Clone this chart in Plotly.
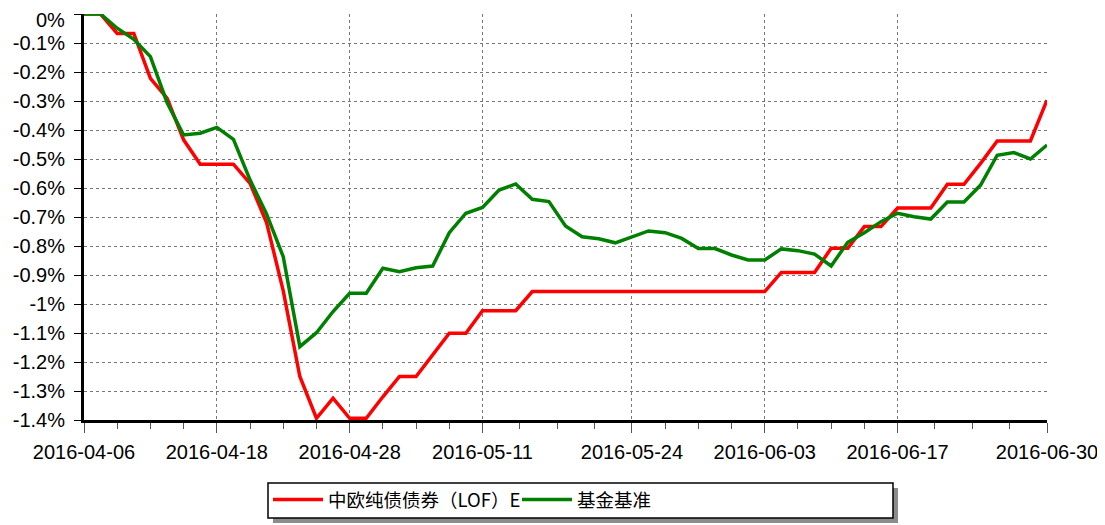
import plotly.graph_objects as go

# ---------------- data ----------------
dates = [
    "2016-04-06", "2016-04-07", "2016-04-08", "2016-04-11", "2016-04-12", "2016-04-13",
    "2016-04-14", "2016-04-15", "2016-04-18", "2016-04-19", "2016-04-20", "2016-04-21",
    "2016-04-22", "2016-04-25", "2016-04-26", "2016-04-27", "2016-04-28", "2016-04-29",
    "2016-05-03", "2016-05-04", "2016-05-05", "2016-05-06", "2016-05-09", "2016-05-10",
    "2016-05-11", "2016-05-12", "2016-05-13", "2016-05-16", "2016-05-17", "2016-05-18",
    "2016-05-19", "2016-05-20", "2016-05-23", "2016-05-24", "2016-05-25", "2016-05-26",
    "2016-05-27", "2016-05-30", "2016-05-31", "2016-06-01", "2016-06-02", "2016-06-03",
    "2016-06-06", "2016-06-07", "2016-06-08", "2016-06-13", "2016-06-14", "2016-06-15",
    "2016-06-16", "2016-06-17", "2016-06-20", "2016-06-21", "2016-06-22", "2016-06-23",
    "2016-06-24", "2016-06-27", "2016-06-28", "2016-06-29", "2016-06-30",
]

fund_name = "中欧纯债债券（LOF）E"
bench_name = "基金基准"

fund = [
    0, 0, -0.067, -0.067, -0.222, -0.29, -0.434, -0.518, -0.518, -0.518,
    -0.584, -0.72, -0.955, -1.25, -1.394, -1.325, -1.394, -1.394, -1.32, -1.25,
    -1.25, -1.176, -1.101, -1.101, -1.023, -1.023, -1.023, -0.957, -0.957, -0.957,
    -0.957, -0.957, -0.957, -0.957, -0.957, -0.957, -0.957, -0.957, -0.957, -0.957,
    -0.957, -0.957, -0.891, -0.891, -0.891, -0.808, -0.808, -0.733, -0.733, -0.669,
    -0.669, -0.669, -0.587, -0.587, -0.515, -0.438, -0.438, -0.438, -0.297,
]

bench = [
    0, 0, -0.049, -0.087, -0.147, -0.305, -0.417, -0.411, -0.391, -0.432,
    -0.572, -0.69, -0.837, -1.147, -1.099, -1.026, -0.963, -0.963, -0.877, -0.889,
    -0.875, -0.869, -0.754, -0.687, -0.667, -0.607, -0.586, -0.639, -0.647, -0.731,
    -0.768, -0.775, -0.789, -0.768, -0.748, -0.754, -0.774, -0.809, -0.809, -0.831,
    -0.848, -0.848, -0.81, -0.816, -0.828, -0.869, -0.787, -0.754, -0.716, -0.687,
    -0.699, -0.707, -0.648, -0.648, -0.59, -0.487, -0.478, -0.5, -0.452,
]

label_dates = ["2016-04-06", "2016-04-18", "2016-04-28", "2016-05-11",
               "2016-05-24", "2016-06-03", "2016-06-17", "2016-06-30"]

y_tickvals = [0, -0.1, -0.2, -0.3, -0.4, -0.5, -0.6, -0.7,
              -0.8, -0.9, -1.0, -1.1, -1.2, -1.3, -1.4]
y_ticktext = ["0%", "-0.1%", "-0.2%", "-0.3%", "-0.4%", "-0.5%", "-0.6%", "-0.7%",
              "-0.8%", "-0.9%", "-1%", "-1.1%", "-1.2%", "-1.3%", "-1.4%"]

# ---------------- derived positions ----------------
idx = list(range(len(dates)))
label_pos = [dates.index(d) for d in label_dates]
minor_pos = []
for a, b in zip(label_pos[:-1], label_pos[1:]):
    for k in range(1, 4):
        minor_pos.append(a + (b - a) * k / 4)

# the topmost label is drawn as an annotation so it is not clipped at the page top
axis_ticktext = [""] + y_ticktext[1:]

FONT = "Liberation Sans, Arial, Noto Sans CJK SC, sans-serif"
CJK = "Noto Sans CJK SC, Liberation Sans, sans-serif"

fig = go.Figure()
fig.add_trace(go.Scatter(
    x=idx, y=fund, mode="lines", name=fund_name,
    line=dict(color="#FF0000", width=3.5),
    customdata=dates, hovertemplate="%{customdata}<br>%{y:.3f}%<extra>" + fund_name + "</extra>",
))
fig.add_trace(go.Scatter(
    x=idx, y=bench, mode="lines", name=bench_name,
    line=dict(color="#008000", width=3.5),
    customdata=dates, hovertemplate="%{customdata}<br>%{y:.3f}%<extra>" + bench_name + "</extra>",
))

# page offset of the figure (default body margin)
OFF = 8
W, H = 1105 - OFF, 525 - OFF
# target plot area in page pixels
PL, PR, PT, PB = 84, 1047, 14, 420
L, R, T, B = PL - OFF, W - (PR - OFF), PT - OFF, H - (PB - OFF)
pw, ph = PR - PL, PB - PT


def px_x(p):
    return (p - PL) / pw


def px_y(p):
    return (PB - p) / ph


shapes = [
    # legend shadow
    dict(type="rect", xref="paper", yref="paper",
         x0=px_x(273), x1=px_x(898), y0=px_y(488), y1=px_y(523),
         fillcolor="#8c8c8c", line=dict(width=0), layer="above"),
    # legend box
    dict(type="rect", xref="paper", yref="paper",
         x0=px_x(268), x1=px_x(893), y0=px_y(483), y1=px_y(518),
         fillcolor="white", line=dict(color="black", width=1.5), layer="above"),
]

annotations = [
    dict(text=y_ticktext[0], xref="paper", yref="paper", x=0, y=1,
         xanchor="right", yanchor="top", xshift=-18, yshift=T,
         showarrow=False, borderpad=0,
         font=dict(family=FONT, size=20, color="black")),
]

fig.update_layout(
    width=W, height=H,
    margin=dict(l=L, r=R, t=T, b=B, pad=0, autoexpand=False),
    paper_bgcolor="white", plot_bgcolor="white",
    font=dict(family=FONT, size=20, color="black"),
    showlegend=True,
    legend=dict(
        orientation="h", x=px_x(268), xanchor="left", y=px_y(500), yanchor="middle",
        bgcolor="rgba(0,0,0,0)", borderwidth=0,
        font=dict(family=CJK, size=18.5, color="black"),
        itemwidth=50, tracegroupgap=0, entrywidth=184, entrywidthmode="pixels",
    ),
    shapes=shapes,
    annotations=annotations,
    xaxis=dict(
        range=[0, len(dates) - 1],
        tickmode="array", tickvals=label_pos, ticktext=label_dates,
        ticks="outside", ticklen=10, tickwidth=1, tickcolor="#555555",
        ticklabelstandoff=2, ticklabeloverflow="allow",
        showgrid=True, gridcolor="#777777", gridwidth=1.2, griddash="dot",
        showline=True, linecolor="black", linewidth=3,
        zeroline=False, tickfont=dict(family=FONT, size=20, color="black"),
        minor=dict(tickmode="array", tickvals=minor_pos, ticks="outside", ticklen=6,
                   tickwidth=1, tickcolor="#555555", showgrid=False),
    ),
    yaxis=dict(
        range=[-1.4, 0],
        tickmode="array", tickvals=y_tickvals, ticktext=axis_ticktext,
        ticks="outside", ticklen=7, tickwidth=1, tickcolor="black",
        ticklabelstandoff=5, ticklabeloverflow="allow",
        showgrid=True, gridcolor="#777777", gridwidth=1.2, griddash="dot",
        showline=True, linecolor="black", linewidth=3,
        zeroline=False, tickfont=dict(family=FONT, size=20, color="black"),
    ),
)

fig.write_html("out.html")
